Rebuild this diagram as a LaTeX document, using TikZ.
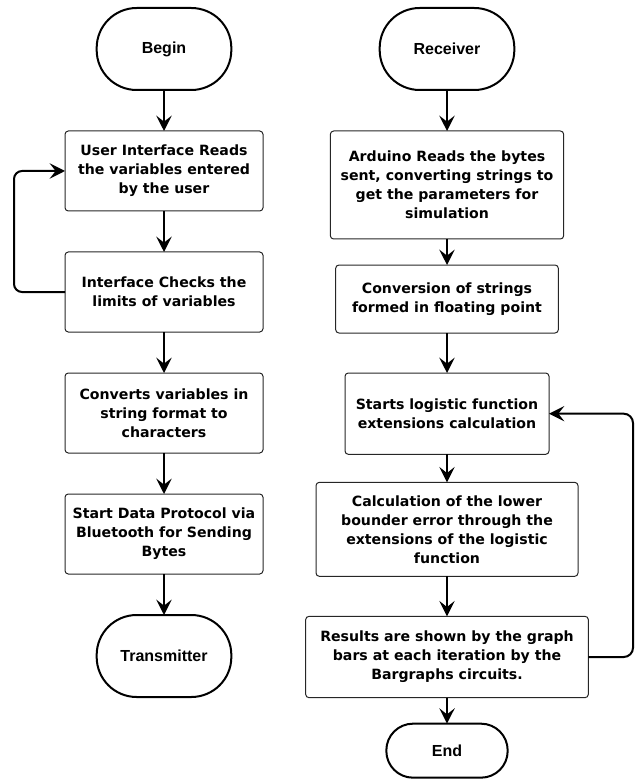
\documentclass[tikz,border=0pt]{standalone}
\usepackage{fontspec}
\setmainfont{DejaVu Sans}
\newfontfamily\termfont{Liberation Sans}
\usepackage{tikz}
\usetikzlibrary{positioning,arrows.meta}

\begin{document}
\begin{tikzpicture}[node distance=30.75pt,
    box/.style={draw=black!85, line width=0.75pt, rounded corners=2.5pt, align=center,
      inner sep=2pt, outer sep=0pt, font=\bfseries\fontsize{10.6}{14.25}\selectfont},
    term/.style={draw, line width=1.5pt, rounded corners=30pt, minimum width=101pt,
      minimum height=61.5pt, outer sep=0pt, font=\termfont\bfseries\fontsize{12}{14}\selectfont},
    arr/.style={line width=1.5pt, -{Stealth[length=11.5pt,width=11.5pt,inset=4.5pt]}}]
    \useasboundingbox (0,0) rectangle (477pt,-585pt);
    \node(begin) [term] at (123pt,-36.75pt) {Begin};
    \node(read) [box, below=of begin, minimum width=148.5pt, minimum height=60pt]
      {User Interface Reads\\the variables entered\\by the user};
    \node(check) [box, below=of read, minimum width=148.5pt, minimum height=60pt]
      {Interface Checks the\\limits of variables};
    \node(convert) [box, below=of check, minimum width=148.5pt, minimum height=60pt]
      {Converts variables in\\string format to\\characters};
    \node(send) [box, below=of convert, minimum width=148.5pt, minimum height=60pt]
      {Start Data Protocol via\\Bluetooth for Sending\\Bytes};
    \node(transmit) [term, below=of send] {Transmitter};
    \node(receiver) [term] at (335.25pt,-36.75pt) {Receiver};
    \node(arduino) [box, below=of receiver, minimum width=175pt, minimum height=81pt]
      {Arduino Reads the bytes\\sent, converting strings to\\get the parameters for\\simulation};
    \node(floating) [box, below=19.5pt of arduino, minimum width=167pt, minimum height=51pt]
      {Conversion of strings\\formed in floating point};
    \node(logistic) [box, below=30pt of floating, minimum width=153pt, minimum height=61pt]
      {Starts logistic function\\extensions calculation};
    \node(lower) [box, below=21pt of logistic, minimum width=196.5pt, minimum height=70.5pt]
      {Calculation of the lower\\bounder error through the\\extensions of the logistic\\function};
    \node(results) [box, below=30pt of lower, minimum width=212pt, minimum height=61pt]
      {Results are shown by the graph\\bars at each iteration by the\\Bargraphs circuits.};
    \node(finish) [term, below=19.5pt of results, minimum width=91pt, minimum height=40.5pt,
      rounded corners=20pt] {End};
    \draw[arr] (begin) -- (read);
    \draw[arr] (read) -- (check);
    \draw[arr] (check) -- (convert);
    \draw[arr] (convert) -- (send);
    \draw[arr] (send) -- (transmit);
    \draw[arr, rounded corners=6pt] (check.west) -- ++(-38.25pt,0) |- (read.west);
    \draw[arr] (receiver) -- (arduino);
    \draw[arr] (arduino) -- (floating);
    \draw[arr] (floating) -- (logistic);
    \draw[arr] (logistic) -- (lower);
    \draw[arr] (lower) -- (results);
    \draw[arr] (results) -- (finish);
    \draw[arr, rounded corners=7pt] (results.east) -- ++(33.5pt,0) |- (logistic.east);
  \end{tikzpicture}
\end{document}
